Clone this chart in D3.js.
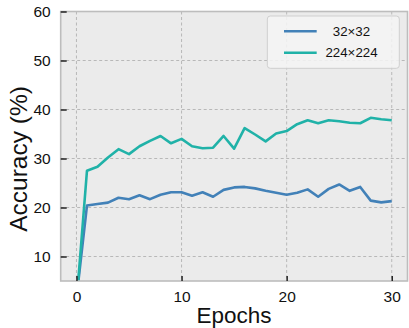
<!DOCTYPE html>
<html>
<head>
<meta charset="utf-8">
<script src="https://cdn.jsdelivr.net/npm/d3@7"></script>
<style>
  body { margin: 0; background: #fff; }
  text { font-family: "Liberation Sans", Arial, sans-serif; fill: #111; }
</style>
</head>
<body>
<div id="chart"></div>
<script>
// values
var epochs = d3.range(0, 31);
var acc32 = [1.5, 20.4, 20.7, 21.0, 22.0, 21.7, 22.5, 21.7, 22.6, 23.1, 23.1,
             22.4, 23.1, 22.2, 23.6, 24.1, 24.2, 23.9, 23.4, 23.0, 22.6,
             23.0, 23.7, 22.2, 23.8, 24.7, 23.4, 24.2, 21.4, 21.05, 21.3];
var acc224 = [0.5, 27.5, 28.3, 30.2, 31.9, 30.9, 32.5, 33.6, 34.6, 33.1, 34.0,
              32.5, 32.1, 32.2, 34.6, 32.0, 36.2, 34.9, 33.5, 35.1, 35.6,
              37.0, 37.8, 37.2, 37.8, 37.6, 37.3, 37.2, 38.3, 38.0, 37.8];
var seriesNames = ["32×32", "224×224"];
var seriesColors = ["#4281b8", "#20b2a8"];
var xTicks = [0, 10, 20, 30];
var yTicks = [10, 20, 30, 40, 50, 60];

var W = 409, H = 328;
var margin = {top: 11.5, right: 1.5, bottom: 47, left: 60.7};
var pw = W - margin.left - margin.right,
    ph = H - margin.top - margin.bottom;

var svg = d3.select("#chart").append("svg")
    .attr("width", W)
    .attr("height", H);

var x = d3.scaleLinear().domain([-1.5, 31.5]).range([0, pw]);
var y = d3.scaleLinear().domain([5, 60]).range([ph, 0]);

var g = svg.append("g")
    .attr("transform", "translate(" + margin.left + "," + margin.top + ")");

g.append("rect")
    .attr("width", pw).attr("height", ph)
    .attr("fill", "#ebebeb");

g.append("clipPath").attr("id", "clip")
  .append("rect").attr("width", pw).attr("height", ph);

// grid
g.selectAll(".vgrid").data(xTicks).enter().append("line")
    .attr("x1", d => x(d)).attr("x2", d => x(d))
    .attr("y1", 0).attr("y2", ph)
    .attr("stroke", "#b2b2b2").attr("stroke-width", 0.9)
    .attr("stroke-dasharray", "3,2.5");
g.selectAll(".hgrid").data(yTicks).enter().append("line")
    .attr("y1", d => y(d)).attr("y2", d => y(d))
    .attr("x1", 0).attr("x2", pw)
    .attr("stroke", "#b2b2b2").attr("stroke-width", 0.9)
    .attr("stroke-dasharray", "3,2.5");

// lines
var line = d3.line()
    .x(function(d, i) { return x(epochs[i]); })
    .y(function(d) { return y(d); });

[acc32, acc224].forEach(function(s, i) {
  g.append("path")
      .datum(s)
      .attr("clip-path", "url(#clip)")
      .attr("fill", "none")
      .attr("stroke", seriesColors[i])
      .attr("stroke-width", 2.6)
      .attr("stroke-linejoin", "round")
      .attr("d", line);
});

// frame
g.append("rect")
    .attr("width", pw).attr("height", ph)
    .attr("fill", "none")
    .attr("stroke", "#bdbdbd").attr("stroke-width", 1.6);

// axes with inward ticks
var xAxis = g.append("g")
    .attr("transform", "translate(0," + ph + ")")
    .call(d3.axisBottom(x).tickValues(xTicks).tickSize(-5).tickPadding(10));
var yAxis = g.append("g")
    .call(d3.axisLeft(y).tickValues(yTicks).tickSize(-6).tickPadding(10));

[xAxis, yAxis].forEach(function(a) {
  a.select(".domain").remove();
  a.selectAll(".tick line").attr("stroke", "#222").attr("stroke-width", 1.5);
  a.selectAll(".tick text")
      .style("font-family", "'Liberation Sans', Arial, sans-serif")
      .style("font-size", "15.5px")
      .attr("fill", "#111");
});

// axis labels
svg.append("text")
    .attr("x", margin.left + pw / 2)
    .attr("y", 323)
    .attr("text-anchor", "middle")
    .style("font-size", "22.5px")
    .text("Epochs");

svg.append("text")
    .attr("transform", "translate(26.5,159) rotate(-90)")
    .attr("text-anchor", "middle")
    .style("font-size", "24.5px")
    .text("Accuracy (%)");

// legend
var lg = svg.append("g").attr("transform", "translate(267.3,16)");
lg.append("rect")
    .attr("width", 132).attr("height", 52.3)
    .attr("rx", 3)
    .attr("fill", "rgba(245,245,245,0.85)")
    .attr("stroke", "#cfcfcf").attr("stroke-width", 1);
seriesNames.forEach(function(n, i) {
  var yy = 15.3 + i * 21.4;
  lg.append("line")
      .attr("x1", 16.7).attr("x2", 49.4)
      .attr("y1", yy).attr("y2", yy)
      .attr("stroke", seriesColors[i]).attr("stroke-width", 2.6);
  lg.append("text")
      .attr("x", 84.2).attr("y", yy + 4.7)
      .attr("text-anchor", "middle")
      .style("font-size", "13.3px")
      .text(n);
});
</script>
</body>
</html>
